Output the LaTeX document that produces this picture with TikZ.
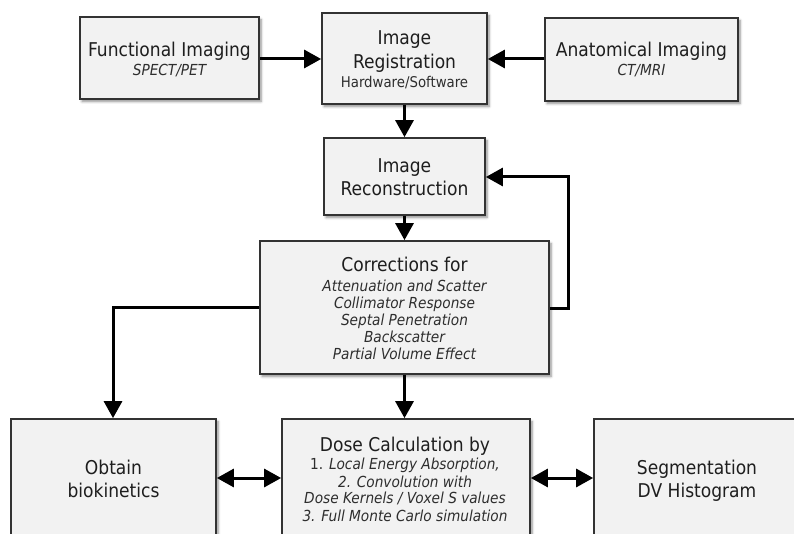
\documentclass[tikz,border=0pt]{standalone}
\usepackage{fontspec}
\setmainfont{DejaVu Sans Condensed}
\usetikzlibrary{arrows.meta,shadows.blur}

\definecolor{boxfill}{HTML}{F2F2F2}
\definecolor{boxline}{HTML}{333333}
\definecolor{ink}{HTML}{1E1E1E}
\definecolor{subink}{HTML}{2E2E2E}

\tikzset{
  box/.style={draw=boxline, line width=1.7pt, fill=boxfill, inner sep=0pt,
    blur shadow={shadow xshift=2pt, shadow yshift=-2.5pt, shadow blur steps=6,
      shadow blur radius=2.5pt, shadow opacity=45}},
  lbl/.style={anchor=base, inner sep=0pt, text=ink,
    font=\fontsize{19}{22}\selectfont},
  sub/.style={anchor=base, inner sep=0pt, text=subink,
    font=\fontsize{15.2}{17}\selectfont\itshape},
  subup/.style={anchor=base, inner sep=0pt, text=subink,
    font=\fontsize{14.8}{17}\selectfont},
  link/.style={line width=3pt, draw=black},
  arr/.style={link, -{Triangle[length=17pt, width=18pt]}},
  darr/.style={link, {Triangle[length=17pt, width=18pt]}-{Triangle[length=17pt, width=18pt]}},
}

\begin{document}
\begin{tikzpicture}[x=1pt, y=-1pt]
  \useasboundingbox (0,0) rectangle (794,534);
  \clip (0,0) rectangle (794,534);

  % boxes
  \node[box, minimum width=179pt, minimum height=82pt] (func)  at (169.5,58)  {};
  \node[box, minimum width=165pt, minimum height=91pt] (reg)   at (404.5,58.5) {};
  \node[box, minimum width=193pt, minimum height=83pt] (anat)  at (641.5,59.5) {};
  \node[box, minimum width=161pt, minimum height=77pt] (recon) at (404.5,176.5) {};
  \node[box, minimum width=289pt, minimum height=133pt] (corr) at (404.5,307.5) {};
  \node[box, minimum width=205pt, minimum height=130pt] (obt)  at (113.5,484) {};
  \node[box, minimum width=248pt, minimum height=130pt] (dose) at (406,484) {};
  \node[box, minimum width=206pt, minimum height=130pt] (seg)  at (697,484) {};

  % box texts
  \node[lbl] at (169.5,57) {Functional Imaging};
  \node[sub] at (169.5,76) {SPECT/PET};

  \node[lbl] at (404.5,45) {Image};
  \node[lbl] at (404.5,69) {Registration};
  \node[subup] at (404.5,88) {Hardware/Software};

  \node[lbl] at (641.5,57) {Anatomical Imaging};
  \node[sub] at (641.5,76) {CT/MRI};

  \node[lbl] at (404.5,173) {Image};
  \node[lbl] at (404.5,196) {Reconstruction};

  \node[lbl] at (404.5,272) {Corrections for};
  \node[sub] at (404.5,291) {Attenuation and Scatter};
  \node[sub] at (404.5,308) {Collimator Response};
  \node[sub] at (404.5,325) {Septal Penetration};
  \node[sub] at (404.5,342) {Backscatter};
  \node[sub] at (404.5,359) {Partial Volume Effect};

  \node[lbl] at (405,451) {Dose Calculation by};
  \node[sub] at (405,469) {\upshape 1. \itshape Local Energy Absorption,};
  \node[sub] at (405,487) {2. Convolution with};
  \node[sub] at (405,503) {Dose Kernels / Voxel S values};
  \node[sub] at (405,521) {3. Full Monte Carlo simulation};

  \node[lbl] at (113.5,474) {Obtain};
  \node[lbl] at (113.5,497) {biokinetics};

  \node[lbl] at (697,474) {Segmentation};
  \node[lbl] at (697,497) {DV Histogram};

  % connectors
  \coordinate (fb) at (568,308);
  \coordinate (lt) at (113,307);

  \draw[arr] (func.east |- 0,59) -- (reg.west |- 0,59);
  \draw[arr] (anat.west |- 0,59) -- (reg.east |- 0,59);
  \draw[arr] (reg.south) -- (recon.north);
  \draw[arr] (recon.south) -- (corr.north);
  \draw[arr] (corr.east |- fb) -- (fb) -- (fb |- 0,177) -- (recon.east |- 0,177);
  \draw[arr] (corr.west |- lt) -- (lt) -- (obt.north -| lt);
  \draw[arr] (corr.south) -- (corr.south |- dose.north);
  \draw[darr] (obt.east |- 0,478) -- (dose.west |- 0,478);
  \draw[darr] (dose.east |- 0,478) -- (seg.west |- 0,478);
\end{tikzpicture}
\end{document}
